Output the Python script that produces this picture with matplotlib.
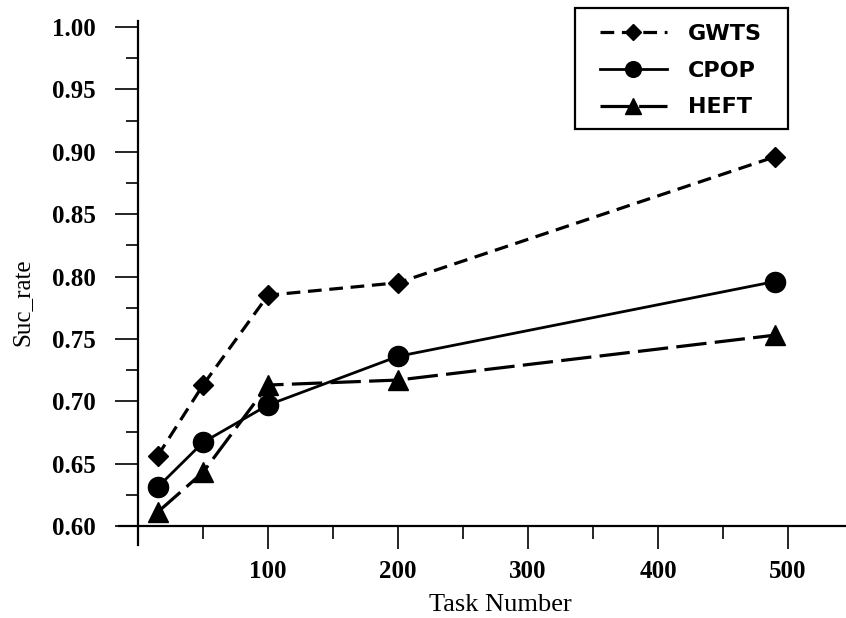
import matplotlib
matplotlib.use("Agg")
import matplotlib.pyplot as plt
from matplotlib.ticker import MultipleLocator, FixedLocator
from matplotlib.patches import Rectangle

# Data
task_numbers = [15, 50, 100, 200, 490]
gwts = [0.656, 0.713, 0.785, 0.795, 0.896]
cpop = [0.631, 0.667, 0.697, 0.736, 0.796]
heft = [0.611, 0.643, 0.713, 0.717, 0.753]
series_names = ["GWTS", "CPOP", "HEFT"]
x_tick_values = [100, 200, 300, 400, 500]
y_tick_values = [0.60, 0.65, 0.70, 0.75, 0.80, 0.85, 0.90, 0.95, 1.00]

W, H = 846, 618
fig = plt.figure(figsize=(W / 100, H / 100), dpi=100)
ax = fig.add_axes([118.5 / W, 1 - 544.7 / H, 728 / W, 523.9 / H])

serif = "Liberation Serif"

ax.plot(task_numbers, gwts, color="black", lw=2.3, linestyle=(0, (4.3, 2.4)),
        marker="D", ms=10.5, label=series_names[0])
ax.plot(task_numbers, cpop, color="black", lw=2.0, linestyle="-",
        marker="o", ms=14.5, label=series_names[1])
ax.plot(task_numbers, heft, color="black", lw=2.3, linestyle=(0, (9.5, 2.6)),
        marker="^", ms=14.5, label=series_names[2])

ax.set_xlim(-15, 545)
ax.set_ylim(0.585, 1.005)

for s in ["top", "right"]:
    ax.spines[s].set_visible(False)
ax.spines["left"].set_position(("data", 0))
ax.spines["bottom"].set_position(("data", 0.60))
for s in ["left", "bottom"]:
    ax.spines[s].set_linewidth(1.6)

ax.xaxis.set_major_locator(FixedLocator(x_tick_values))
ax.xaxis.set_minor_locator(FixedLocator([50, 150, 250, 350, 450]))
ax.set_xticklabels([str(v) for v in x_tick_values])
ax.yaxis.set_major_locator(FixedLocator(y_tick_values))
ax.yaxis.set_minor_locator(MultipleLocator(0.025))
ax.set_yticklabels([f"{v:.2f}" for v in y_tick_values])

ax.tick_params(axis="both", which="major", direction="out", length=16.5, width=1.2,
               labelsize=18)
ax.tick_params(axis="both", which="minor", direction="out", length=9, width=1.2)
ax.tick_params(axis="y", which="major", pad=14)
ax.tick_params(axis="x", which="major", pad=8)
for lab in ax.get_xticklabels() + ax.get_yticklabels():
    lab.set_fontfamily(serif)
    lab.set_fontweight("bold")

fig.text(500 / W, 1 - 611 / H, "Task Number", ha="center", va="baseline",
         fontsize=19, family=serif)
fig.text(22 / W, 1 - 302 / H, "Suc_rate", ha="center", va="center",
         rotation=90, fontsize=18, family=serif)

leg = ax.legend(loc="upper left", bbox_to_anchor=(600 / W, 1 - 24 / H),
                bbox_transform=fig.transFigure,
                prop={"family": "DejaVu Sans", "weight": "bold", "size": 16},
                frameon=False, borderpad=0, handlelength=3.0, handletextpad=0.95,
                labelspacing=0.75, markerscale=0.78, borderaxespad=0)

fig.patches.append(Rectangle((575 / W, 1 - 129 / H), 213 / W, 121 / H,
                             transform=fig.transFigure, fill=False,
                             edgecolor="black", linewidth=1.6))

fig.savefig("out.png", dpi=100)
